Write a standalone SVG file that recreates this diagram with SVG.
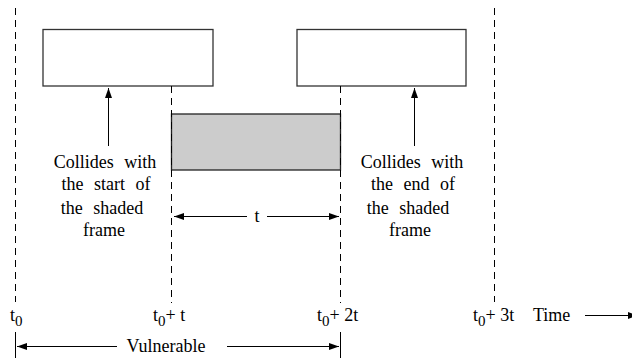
<svg xmlns="http://www.w3.org/2000/svg" width="632" height="358" viewBox="0 0 632 358">
<style>
.frame{fill:#fff;stroke:#333;stroke-width:1.3}
.shaded{fill:#cccccc;stroke:#222;stroke-width:1.3}
.dash{stroke:#000;stroke-width:1;stroke-dasharray:7 5;fill:none}
.ln{stroke:#000;stroke-width:1;fill:none}
.txt{font-family:'Times New Roman',Times,'Liberation Serif','Noto Serif','DejaVu Serif',serif;font-size:18px;fill:#000}
.lbl{text-anchor:middle;word-spacing:6px}
.sub{font-size:15px}
</style>
<defs>
<marker id="ah" markerWidth="10" markerHeight="7" refX="10" refY="3.5" orient="auto" markerUnits="userSpaceOnUse">
<path d="M0,0 L10,3.5 L0,7 Z" fill="#000"/>
</marker>
</defs>
<rect width="632" height="358" fill="#fff"/>
<g id="frame1"><rect class="frame" x="43" y="29.5" width="170" height="56.5"/></g>
<g id="frame2"><rect class="frame" x="297" y="29.5" width="169" height="56.5"/></g>
<g id="shaded"><rect class="shaded" x="171.5" y="114" width="169" height="56"/></g>
<g id="connectors">
<line class="dash" x1="15.5" y1="8" x2="15.5" y2="302"/>
<line class="dash" x1="171.5" y1="86" x2="171.5" y2="303"/>
<line class="dash" x1="340.5" y1="86" x2="340.5" y2="303"/>
<line class="dash" x1="494.5" y1="8" x2="494.5" y2="302"/>
<line class="ln" x1="108.5" y1="146" x2="108.5" y2="88" marker-end="url(#ah)"/>
<line class="ln" x1="414.5" y1="146" x2="414.5" y2="88" marker-end="url(#ah)"/>
<line class="ln" x1="247" y1="216.5" x2="174" y2="216.5" marker-end="url(#ah)"/>
<line class="ln" x1="267" y1="216.5" x2="339" y2="216.5" marker-end="url(#ah)"/>
<line class="ln" x1="15.5" y1="332" x2="15.5" y2="358"/>
<line class="ln" x1="340.5" y1="332" x2="340.5" y2="358"/>
<line class="ln" x1="117" y1="346.5" x2="17" y2="346.5" marker-end="url(#ah)"/>
<line class="ln" x1="227" y1="346.5" x2="339" y2="346.5" marker-end="url(#ah)"/>
<line class="ln" x1="585" y1="315.5" x2="638" y2="315.5" marker-end="url(#ah)"/>
</g>
<g class="txt">
<g id="left-label">
<text class="lbl" x="105" y="168">Collides with</text>
<text class="lbl" x="106" y="190">the start of</text>
<text class="lbl" x="102" y="214">the shaded</text>
<text class="lbl" x="104" y="236">frame</text>
</g>
<g id="right-label">
<text class="lbl" x="412" y="168">Collides with</text>
<text class="lbl" x="413" y="190">the end of</text>
<text class="lbl" x="408" y="214">the shaded</text>
<text class="lbl" x="410" y="236">frame</text>
</g>
<text x="257" y="222" text-anchor="middle">t</text>
<g id="axis-labels">
<text x="10" y="321">t<tspan class="sub" dy="5">0</tspan></text>
<text x="153" y="321">t<tspan class="sub" dy="5">0</tspan><tspan dy="-5">+ t</tspan></text>
<text x="317" y="321">t<tspan class="sub" dy="5">0</tspan><tspan dy="-5">+ 2t</tspan></text>
<text x="473" y="321">t<tspan class="sub" dy="5">0</tspan><tspan dy="-5">+ 3t</tspan></text>
<text x="533" y="321">Time</text>
<text x="166" y="352" text-anchor="middle">Vulnerable</text>
</g>
</g>
</svg>
